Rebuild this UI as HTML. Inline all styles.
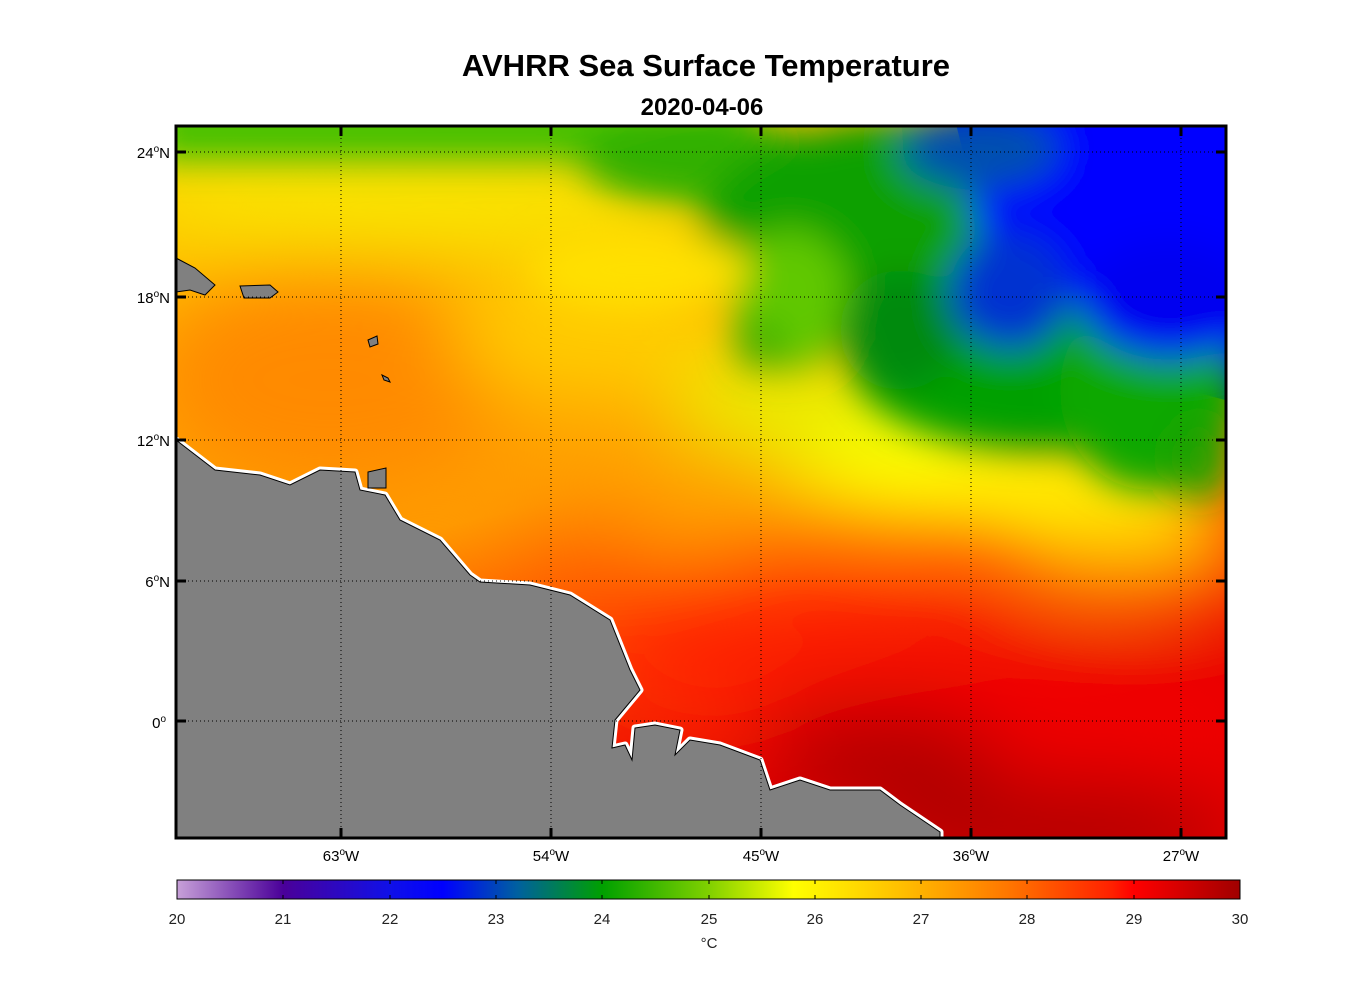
<!DOCTYPE html>
<html><head><meta charset="utf-8"><style>
html,body{margin:0;padding:0;background:#fff;}
body{width:1356px;height:1000px;position:relative;overflow:hidden;font-family:"Liberation Sans",Arial,sans-serif;}
</style></head><body>
<svg width="1356" height="1000" xmlns="http://www.w3.org/2000/svg" style="position:absolute;left:0;top:0">
<defs>
<clipPath id="mc"><rect x="176" y="126" width="1050" height="712"/></clipPath>
<filter id="b1" x="-50%" y="-50%" width="200%" height="200%"><feGaussianBlur stdDeviation="40"/></filter>
<filter id="b2" x="-50%" y="-50%" width="200%" height="200%"><feGaussianBlur stdDeviation="18"/></filter>
<linearGradient id="base" x1="0" y1="0" x2="0.35" y2="1">
<stop offset="0" stop-color="#ffd800"/><stop offset="0.3" stop-color="#ffa800"/><stop offset="0.58" stop-color="#ff9a00"/><stop offset="0.78" stop-color="#ff4000"/><stop offset="1" stop-color="#e80000"/>
</linearGradient>
<linearGradient id="cb" x1="0" y1="0" x2="1" y2="0">
<stop offset="0" stop-color="#c7a0d8"/><stop offset="0.1" stop-color="#4a0099"/><stop offset="0.2" stop-color="#1010e8"/><stop offset="0.25" stop-color="#0000ff"/><stop offset="0.32" stop-color="#0060a0"/><stop offset="0.4" stop-color="#00a000"/><stop offset="0.5" stop-color="#80d000"/><stop offset="0.58" stop-color="#ffff00"/><stop offset="0.68" stop-color="#ffc000"/><stop offset="0.78" stop-color="#ff7800"/><stop offset="0.88" stop-color="#ff2000"/><stop offset="0.9" stop-color="#ff0000"/><stop offset="1" stop-color="#a00000"/>
</linearGradient>
</defs>
<text x="706" y="76" text-anchor="middle" font-size="31" font-weight="bold">AVHRR Sea Surface Temperature</text>
<text x="702" y="115" text-anchor="middle" font-size="24" font-weight="bold">2020-04-06</text>
<g clip-path="url(#mc)">
<rect x="176" y="126" width="1050" height="712" fill="url(#base)"/>
<polygon points="950,100 1300,100 1300,420 1150,380 1000,300" fill="#0000ff"/>
<g filter="url(#b1)">
<ellipse cx="330" cy="380" rx="180" ry="110" fill="#ff8a00"/>
<ellipse cx="600" cy="330" rx="150" ry="70" fill="#ffcc00"/>
<ellipse cx="820" cy="410" rx="150" ry="60" fill="#e8f000"/>
<ellipse cx="1000" cy="480" rx="220" ry="50" fill="#ffff00"/>
<ellipse cx="1130" cy="550" rx="120" ry="45" fill="#ffc000"/>
<ellipse cx="450" cy="200" rx="320" ry="50" fill="#f8e800"/>
<ellipse cx="650" cy="490" rx="160" ry="55" fill="#ffa000"/>
<ellipse cx="830" cy="660" rx="230" ry="55" fill="#ff2000"/>
<ellipse cx="1000" cy="730" rx="260" ry="85" fill="#f00000"/>
<ellipse cx="880" cy="760" rx="120" ry="50" fill="#b00000"/>
<ellipse cx="1060" cy="830" rx="180" ry="50" fill="#b00000"/>
<ellipse cx="590" cy="560" rx="80" ry="35" fill="#ff5000"/>
</g>
<g filter="url(#b2)">
<rect x="150" y="100" width="600" height="60" fill="#40c000"/>
<ellipse cx="700" cy="160" rx="120" ry="45" fill="#30b000"/>
<ellipse cx="900" cy="230" rx="200" ry="110" fill="#10a000"/>
<ellipse cx="1040" cy="360" rx="190" ry="90" fill="#00a000"/>
<ellipse cx="1150" cy="390" rx="90" ry="100" fill="#10a800"/>
<ellipse cx="790" cy="300" rx="60" ry="70" fill="#60c800"/>
<ellipse cx="900" cy="330" rx="60" ry="60" fill="#008a10"/>
<ellipse cx="1140" cy="190" rx="170" ry="120" fill="#0000ff"/>
<ellipse cx="1170" cy="300" rx="90" ry="60" fill="#0000f0"/>
<ellipse cx="980" cy="150" rx="80" ry="40" fill="#0050b0"/>
<ellipse cx="1010" cy="290" rx="60" ry="60" fill="#0030d0"/>
<ellipse cx="760" cy="345" rx="25" ry="25" fill="#40b000"/>
<ellipse cx="640" cy="270" rx="110" ry="40" fill="#ffe000"/>
<ellipse cx="1200" cy="460" rx="30" ry="40" fill="#20a000"/>
</g>
<g stroke="#fff" stroke-width="7" fill="#fff" stroke-linejoin="round">
<polygon points="176,440 215,470 260,475 290,485 320,470 355,472 360,490 385,495 400,520 440,540 470,575 480,582 530,585 570,595 610,620 630,670 640,690 615,720 612,748 625,745 632,760 635,728 655,725 680,730 675,755 690,740 720,745 760,760 770,790 800,780 830,790 880,790 900,805 940,832 940,840 176,840"/>
</g>
<g stroke="#000" stroke-width="1" fill="#808080">
<polygon points="176,440 215,470 260,475 290,485 320,470 355,472 360,490 385,495 400,520 440,540 470,575 480,582 530,585 570,595 610,620 630,670 640,690 615,720 612,748 625,745 632,760 635,728 655,725 680,730 675,755 690,740 720,745 760,760 770,790 800,780 830,790 880,790 900,805 940,832 940,840 176,840"/>
<polygon points="176,258 195,268 215,285 205,295 190,290 176,292"/>
<polygon points="240,286 270,285 278,292 270,298 244,298"/>
<polygon points="368,340 377,336 378,344 370,347"/>
<polygon points="382,375 388,378 390,382 384,380"/>
<polygon points="368,472 386,468 386,488 368,488"/>
</g>
</g>
<g stroke="#000" stroke-width="1" stroke-dasharray="1,3">
<line x1="341" y1="126" x2="341" y2="838"/><line x1="551" y1="126" x2="551" y2="838"/><line x1="761" y1="126" x2="761" y2="838"/><line x1="971" y1="126" x2="971" y2="838"/><line x1="1181" y1="126" x2="1181" y2="838"/>
<line x1="176" y1="152" x2="1226" y2="152"/><line x1="176" y1="297" x2="1226" y2="297"/><line x1="176" y1="440" x2="1226" y2="440"/><line x1="176" y1="581" x2="1226" y2="581"/><line x1="176" y1="721" x2="1226" y2="721"/>
</g>
<g stroke="#000" stroke-width="3">
<line x1="341" y1="126" x2="341" y2="136"/><line x1="551" y1="126" x2="551" y2="136"/><line x1="761" y1="126" x2="761" y2="136"/><line x1="971" y1="126" x2="971" y2="136"/><line x1="1181" y1="126" x2="1181" y2="136"/>
<line x1="341" y1="828" x2="341" y2="838"/><line x1="551" y1="828" x2="551" y2="838"/><line x1="761" y1="828" x2="761" y2="838"/><line x1="971" y1="828" x2="971" y2="838"/><line x1="1181" y1="828" x2="1181" y2="838"/>
<line x1="176" y1="152" x2="186" y2="152"/><line x1="176" y1="297" x2="186" y2="297"/><line x1="176" y1="440" x2="186" y2="440"/><line x1="176" y1="581" x2="186" y2="581"/><line x1="176" y1="721" x2="186" y2="721"/>
<line x1="1216" y1="152" x2="1226" y2="152"/><line x1="1216" y1="297" x2="1226" y2="297"/><line x1="1216" y1="440" x2="1226" y2="440"/><line x1="1216" y1="581" x2="1226" y2="581"/><line x1="1216" y1="721" x2="1226" y2="721"/>
</g>
<rect x="176" y="126" width="1050" height="712" fill="none" stroke="#000" stroke-width="3"/>
<g font-size="15" text-anchor="end">
<text x="170" y="158">24<tspan dy="-6" font-size="10">o</tspan><tspan dy="6">N</tspan></text>
<text x="170" y="303">18<tspan dy="-6" font-size="10">o</tspan><tspan dy="6">N</tspan></text>
<text x="170" y="446">12<tspan dy="-6" font-size="10">o</tspan><tspan dy="6">N</tspan></text>
<text x="170" y="587">6<tspan dy="-6" font-size="10">o</tspan><tspan dy="6">N</tspan></text>
<text x="166" y="728">0<tspan dy="-6" font-size="10">o</tspan></text>
</g>
<g font-size="15" text-anchor="middle">
<text x="341" y="861">63<tspan dy="-6" font-size="10">o</tspan><tspan dy="6">W</tspan></text>
<text x="551" y="861">54<tspan dy="-6" font-size="10">o</tspan><tspan dy="6">W</tspan></text>
<text x="761" y="861">45<tspan dy="-6" font-size="10">o</tspan><tspan dy="6">W</tspan></text>
<text x="971" y="861">36<tspan dy="-6" font-size="10">o</tspan><tspan dy="6">W</tspan></text>
<text x="1181" y="861">27<tspan dy="-6" font-size="10">o</tspan><tspan dy="6">W</tspan></text>
</g>
<rect x="177" y="880" width="1063" height="19" fill="url(#cb)" stroke="#000" stroke-width="1"/>
<g stroke="#000" stroke-width="1">
<line x1="283" y1="880" x2="283" y2="884"/><line x1="390" y1="880" x2="390" y2="884"/><line x1="496" y1="880" x2="496" y2="884"/><line x1="602" y1="880" x2="602" y2="884"/><line x1="709" y1="880" x2="709" y2="884"/><line x1="815" y1="880" x2="815" y2="884"/><line x1="921" y1="880" x2="921" y2="884"/><line x1="1027" y1="880" x2="1027" y2="884"/><line x1="1134" y1="880" x2="1134" y2="884"/>
<line x1="283" y1="895" x2="283" y2="899"/><line x1="390" y1="895" x2="390" y2="899"/><line x1="496" y1="895" x2="496" y2="899"/><line x1="602" y1="895" x2="602" y2="899"/><line x1="709" y1="895" x2="709" y2="899"/><line x1="815" y1="895" x2="815" y2="899"/><line x1="921" y1="895" x2="921" y2="899"/><line x1="1027" y1="895" x2="1027" y2="899"/><line x1="1134" y1="895" x2="1134" y2="899"/>
</g>
<g font-size="15" text-anchor="middle" fill="#222">
<text x="177" y="924">20</text><text x="283" y="924">21</text><text x="390" y="924">22</text><text x="496" y="924">23</text><text x="602" y="924">24</text><text x="709" y="924">25</text><text x="815" y="924">26</text><text x="921" y="924">27</text><text x="1027" y="924">28</text><text x="1134" y="924">29</text><text x="1240" y="924">30</text>
<text x="709" y="948">°C</text>
</g>
</svg>
</body></html>
